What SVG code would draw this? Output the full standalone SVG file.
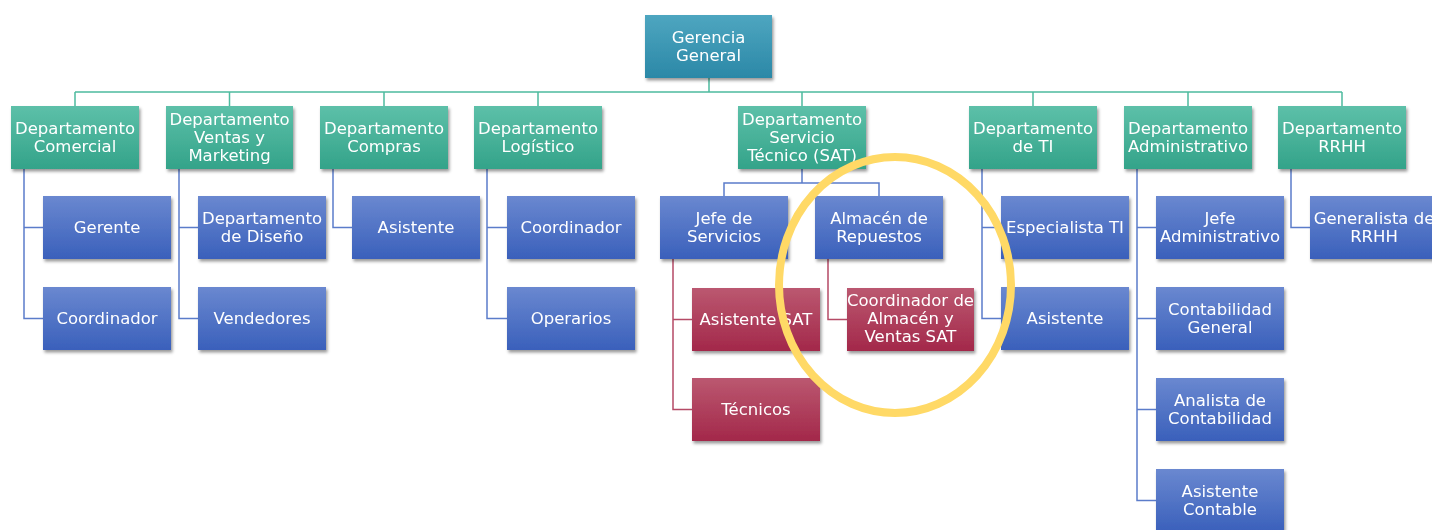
<svg xmlns="http://www.w3.org/2000/svg" width="1432" height="530" viewBox="0 0 1432 530">
  <defs>
    <linearGradient id="gTop" x1="0" y1="0" x2="0" y2="1">
      <stop offset="0" stop-color="#4ea6c0"/>
      <stop offset="1" stop-color="#2b88a7"/>
    </linearGradient>
    <linearGradient id="gDept" x1="0" y1="0" x2="0" y2="1">
      <stop offset="0" stop-color="#5dc0a9"/>
      <stop offset="1" stop-color="#33a389"/>
    </linearGradient>
    <linearGradient id="gBlue" x1="0" y1="0" x2="0" y2="1">
      <stop offset="0" stop-color="#6a88d0"/>
      <stop offset="1" stop-color="#3a60bb"/>
    </linearGradient>
    <linearGradient id="gRed" x1="0" y1="0" x2="0" y2="1">
      <stop offset="0" stop-color="#bb5870"/>
      <stop offset="1" stop-color="#a3284a"/>
    </linearGradient>
    <filter id="shadow" x="-10%" y="-10%" width="125%" height="135%">
      <feDropShadow dx="1.5" dy="2.5" stdDeviation="1.6" flood-color="#000" flood-opacity="0.4"/>
    </filter>
  </defs>
  <style>
    .box { filter: url(#shadow); }
    .top { fill: url(#gTop); }
    .dept { fill: url(#gDept); }
    .blue { fill: url(#gBlue); }
    .red { fill: url(#gRed); }
    text { font-family: "DejaVu Sans", Verdana, sans-serif; font-size: 16.5px; fill: #ffffff; text-anchor: middle; }
    .ln-teal { stroke: #4dbb9f; stroke-width: 1.5; fill: none; }
    .ln-blue { stroke: #5b7cca; stroke-width: 1.5; fill: none; }
    .ln-red { stroke: #b54a66; stroke-width: 1.5; fill: none; }
  </style>
  <rect width="1432" height="530" fill="#ffffff"/>

  <!-- connectors -->
  <g id="connectors">
    <path class="ln-teal" d="M709 78V92M75 92H1342M75 92V106M229.5 92V106M384 92V106M538 92V106M802 92V106M1033 92V106M1188 92V106M1342 92V106"/>
    <!-- Comercial -->
    <path class="ln-blue" d="M24 169V318.5H43M24 227.5H43"/>
    <!-- Ventas y Marketing -->
    <path class="ln-blue" d="M179 169V318.5H198M179 227.5H198"/>
    <!-- Compras -->
    <path class="ln-blue" d="M333 169V227.5H352"/>
    <!-- Logistico -->
    <path class="ln-blue" d="M487 169V318.5H507M487 227.5H507"/>
    <!-- SAT -->
    <path class="ln-blue" d="M802 169V183M724 196V183H879V196"/>
    <path class="ln-red" d="M673 259V409.5H692M673 319.5H692"/>
    <path class="ln-red" d="M828 259V319.5H847"/>
    <!-- TI -->
    <path class="ln-blue" d="M982 169V318.5H1001M982 227.5H1001"/>
    <!-- Administrativo -->
    <path class="ln-blue" d="M1137 169V500.5H1156M1137 227.5H1156M1137 318.5H1156M1137 409.5H1156"/>
    <!-- RRHH -->
    <path class="ln-blue" d="M1291 169V227.5H1310"/>
  </g>

  <g id="gerencia-general" class="box">
    <rect class="top" x="645" y="15" width="127" height="63"/>
    <text x="708.5" y="43">Gerencia</text>
    <text x="708.5" y="61">General</text>
  </g>

  <!-- departments -->
  <g id="dep-comercial" class="box">
    <rect class="dept" x="11" y="106" width="128" height="63"/>
    <text x="75" y="134">Departamento</text>
    <text x="75" y="152">Comercial</text>
  </g>
  <g id="dep-ventas" class="box">
    <rect class="dept" x="166" y="106" width="127" height="63"/>
    <text x="229.5" y="125">Departamento</text>
    <text x="229.5" y="143">Ventas y</text>
    <text x="229.5" y="161">Marketing</text>
  </g>
  <g id="dep-compras" class="box">
    <rect class="dept" x="320" y="106" width="128" height="63"/>
    <text x="384" y="134">Departamento</text>
    <text x="384" y="152">Compras</text>
  </g>
  <g id="dep-logistico" class="box">
    <rect class="dept" x="474" y="106" width="128" height="63"/>
    <text x="538" y="134">Departamento</text>
    <text x="538" y="152">Logístico</text>
  </g>
  <g id="dep-sat" class="box">
    <rect class="dept" x="738" y="106" width="128" height="63"/>
    <text x="802" y="125">Departamento</text>
    <text x="802" y="143">Servicio</text>
    <text x="802" y="161">Técnico (SAT)</text>
  </g>
  <g id="dep-ti" class="box">
    <rect class="dept" x="969" y="106" width="128" height="63"/>
    <text x="1033" y="134">Departamento</text>
    <text x="1033" y="152">de TI</text>
  </g>
  <g id="dep-administrativo" class="box">
    <rect class="dept" x="1124" y="106" width="128" height="63"/>
    <text x="1188" y="134">Departamento</text>
    <text x="1188" y="152">Administrativo</text>
  </g>
  <g id="dep-rrhh" class="box">
    <rect class="dept" x="1278" y="106" width="128" height="63"/>
    <text x="1342" y="134">Departamento</text>
    <text x="1342" y="152">RRHH</text>
  </g>

  <!-- Comercial staff -->
  <g id="com-gerente" class="box">
    <rect class="blue" x="43" y="196" width="128" height="63"/>
    <text x="107" y="233">Gerente</text>
  </g>
  <g id="com-coordinador" class="box">
    <rect class="blue" x="43" y="287" width="128" height="63"/>
    <text x="107" y="324">Coordinador</text>
  </g>

  <!-- Ventas y Marketing staff -->
  <g id="ven-diseno" class="box">
    <rect class="blue" x="198" y="196" width="128" height="63"/>
    <text x="262" y="224">Departamento</text>
    <text x="262" y="242">de Diseño</text>
  </g>
  <g id="ven-vendedores" class="box">
    <rect class="blue" x="198" y="287" width="128" height="63"/>
    <text x="262" y="324">Vendedores</text>
  </g>

  <!-- Compras staff -->
  <g id="cmp-asistente" class="box">
    <rect class="blue" x="352" y="196" width="128" height="63"/>
    <text x="416" y="233">Asistente</text>
  </g>

  <!-- Logistico staff -->
  <g id="log-coordinador" class="box">
    <rect class="blue" x="507" y="196" width="128" height="63"/>
    <text x="571" y="233">Coordinador</text>
  </g>
  <g id="log-operarios" class="box">
    <rect class="blue" x="507" y="287" width="128" height="63"/>
    <text x="571" y="324">Operarios</text>
  </g>

  <!-- SAT staff -->
  <g id="sat-jefe" class="box">
    <rect class="blue" x="660" y="196" width="128" height="63"/>
    <text x="724" y="224">Jefe de</text>
    <text x="724" y="242">Servicios</text>
  </g>
  <g id="sat-almacen" class="box">
    <rect class="blue" x="815" y="196" width="128" height="63"/>
    <text x="879" y="224">Almacén de</text>
    <text x="879" y="242">Repuestos</text>
  </g>
  <g id="sat-asistente" class="box">
    <rect class="red" x="692" y="288" width="128" height="63"/>
    <text x="756" y="325">Asistente SAT</text>
  </g>
  <g id="sat-tecnicos" class="box">
    <rect class="red" x="692" y="378" width="128" height="63"/>
    <text x="756" y="415">Técnicos</text>
  </g>
  <g id="sat-coordinador" class="box">
    <rect class="red" x="847" y="288" width="127" height="63"/>
    <text x="910.5" y="306">Coordinador de</text>
    <text x="910.5" y="324">Almacén y</text>
    <text x="910.5" y="342">Ventas SAT</text>
  </g>

  <!-- TI staff -->
  <g id="ti-especialista" class="box">
    <rect class="blue" x="1001" y="196" width="128" height="63"/>
    <text x="1065" y="233">Especialista TI</text>
  </g>
  <g id="ti-asistente" class="box">
    <rect class="blue" x="1001" y="287" width="128" height="63"/>
    <text x="1065" y="324">Asistente</text>
  </g>

  <!-- Administrativo staff -->
  <g id="adm-jefe" class="box">
    <rect class="blue" x="1156" y="196" width="128" height="63"/>
    <text x="1220" y="224">Jefe</text>
    <text x="1220" y="242">Administrativo</text>
  </g>
  <g id="adm-contabilidad" class="box">
    <rect class="blue" x="1156" y="287" width="128" height="63"/>
    <text x="1220" y="315">Contabilidad</text>
    <text x="1220" y="333">General</text>
  </g>
  <g id="adm-analista" class="box">
    <rect class="blue" x="1156" y="378" width="128" height="63"/>
    <text x="1220" y="406">Analista de</text>
    <text x="1220" y="424">Contabilidad</text>
  </g>
  <g id="adm-asistente" class="box">
    <rect class="blue" x="1156" y="469" width="128" height="63"/>
    <text x="1220" y="497">Asistente</text>
    <text x="1220" y="515">Contable</text>
  </g>

  <!-- RRHH staff -->
  <g id="rrhh-generalista" class="box">
    <rect class="blue" x="1310" y="196" width="128" height="63"/>
    <text x="1374" y="224">Generalista de</text>
    <text x="1374" y="242">RRHH</text>
  </g>

  <!-- highlight ring -->
  <ellipse cx="895" cy="285" rx="116" ry="128" fill="none" stroke="#ffd966" stroke-width="8"/>
</svg>
